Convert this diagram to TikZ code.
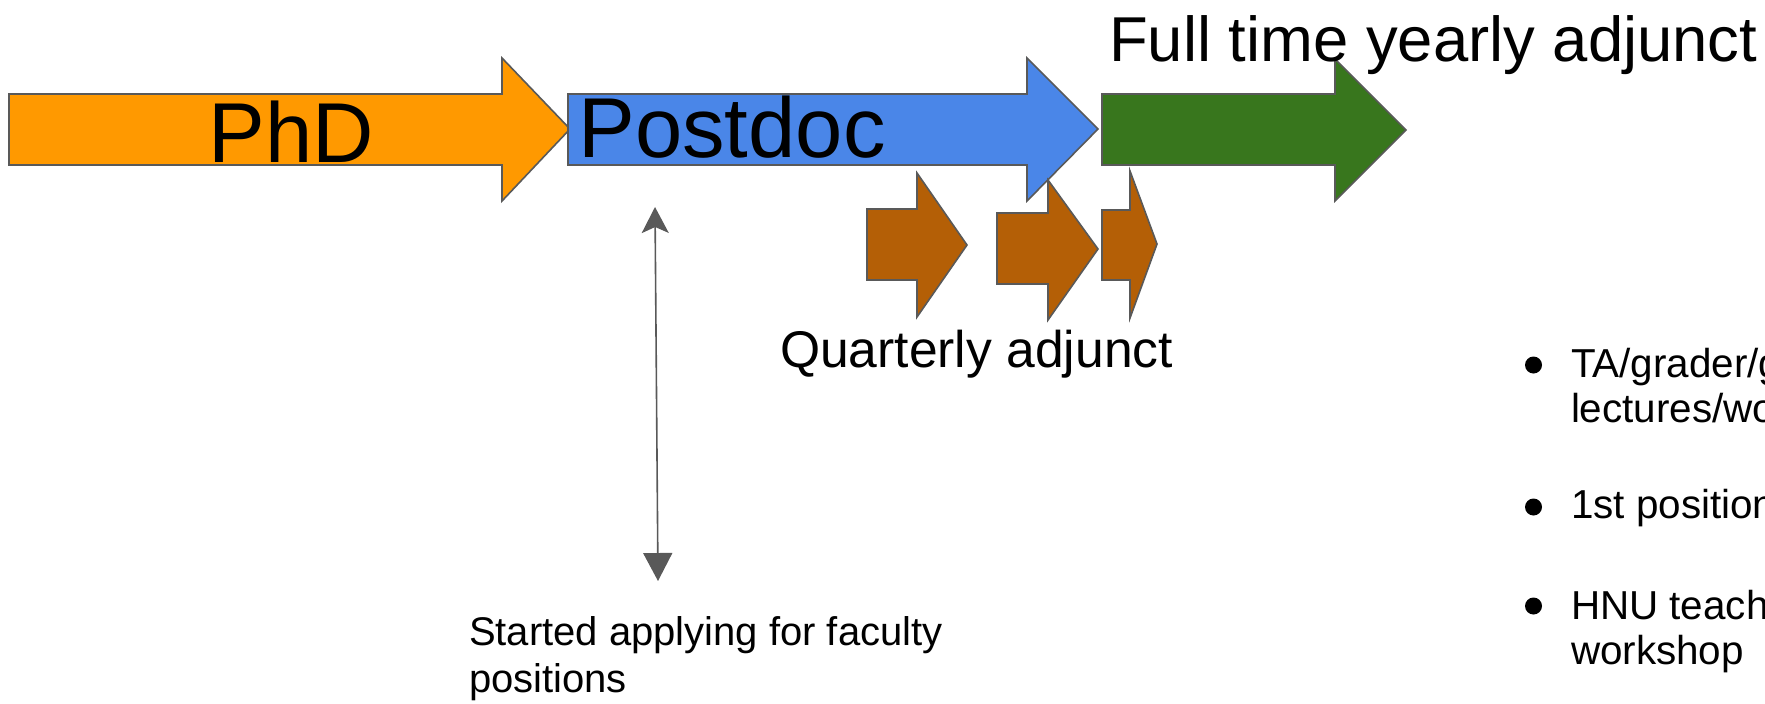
\documentclass[tikz,border=0pt]{standalone}
\usepackage{fontspec}
\setmainfont{Liberation Sans}
\usetikzlibrary{arrows.meta}
\definecolor{phdorange}{HTML}{FF9900}
\definecolor{postblue}{HTML}{4A86E8}
\definecolor{fullgreen}{HTML}{38761D}
\definecolor{quartbrown}{HTML}{B45F06}
\definecolor{edgegray}{HTML}{595959}
\begin{document}
\begin{tikzpicture}[x=0.5pt,y=-0.5pt,
  blockarrow/.style={draw=edgegray,line width=0.8pt,line join=miter},
  label/.style={inner sep=0pt,outer sep=0pt,text=black},
  bigtext/.style={label,font=\fontsize{42.5}{49}\selectfont},
  bullettext/.style={label,anchor=base west,font=\fontsize{20.2}{23}\selectfont},
  dot/.style={circle,fill=black,inner sep=0pt,minimum size=8.5pt}]
\useasboundingbox (0,0) rectangle (1765,703);

% main timeline block arrows
\path[blockarrow,fill=phdorange]
  (9,94) -- (502,94) -- (502,58) -- (570,129) -- (502,201) -- (502,165) -- (9,165) -- cycle;
\path[blockarrow,fill=postblue]
  (568,94) -- (1027,94) -- (1027,58) -- (1098,129) -- (1027,201) -- (1027,165) -- (568,165) -- cycle;
\path[blockarrow,fill=fullgreen]
  (1102,94) -- (1335,94) -- (1335,59) -- (1406,130) -- (1335,201) -- (1335,165) -- (1102,165) -- cycle;

% quarterly block arrows
\path[blockarrow,fill=quartbrown]
  (867,209) -- (917,209) -- (917,173) -- (967,245) -- (917,317) -- (917,280) -- (867,280) -- cycle;
\path[blockarrow,fill=quartbrown]
  (997,213) -- (1048,213) -- (1048,180) -- (1098,249) -- (1048,320) -- (1048,284) -- (997,284) -- cycle;
\path[blockarrow,fill=quartbrown]
  (1102,210) -- (1130,210) -- (1130,171) -- (1157,244) -- (1130,318) -- (1130,280) -- (1102,280) -- cycle;

% labels
\node[bigtext,anchor=base] (phd) at (291,162) {PhD};
\node[bigtext,anchor=base west] (postdoc) at (578.5,157) {Postdoc};
\node[label,anchor=base west,font=\fontsize{31.7}{36}\selectfont] (fulltime) at (1109,61) {Full time yearly adjunct};
\node[label,anchor=base west,font=\fontsize{25.8}{30}\selectfont] (quarterly) at (780,367) {Quarterly adjunct};
\node[label,anchor=base west,font=\fontsize{20}{23.5}\selectfont] (applying1) at (469,645) {Started applying for faculty};
\node[label,anchor=base west,font=\fontsize{20}{23.5}\selectfont] (applying2) at (469,692) {positions};

% application window marker
\coordinate (apptop) at (655,207);
\coordinate (appbot) at (658,581);
\draw[edgegray,line width=0.8pt,
  {Stealth[length=13pt,width=13.5pt,inset=3pt]}-{Triangle[length=14pt,width=14.5pt]}]
  (apptop) -- (appbot);

% bullet list
\node[dot] (b1) at (1533.5,365) {};
\node[dot] (b2) at (1533.5,507) {};
\node[dot] (b3) at (1533.5,606) {};
\node[bullettext] (t1a) at (1571,377) {TA/grader/g};
\node[bullettext] (t1b) at (1571,422) {lectures/wo};
\node[bullettext] (t2) at (1571,518) {1st position};
\node[bullettext] (t3a) at (1571,619) {HNU teach};
\node[bullettext] (t3b) at (1571,664) {workshop};
\end{tikzpicture}
\end{document}
